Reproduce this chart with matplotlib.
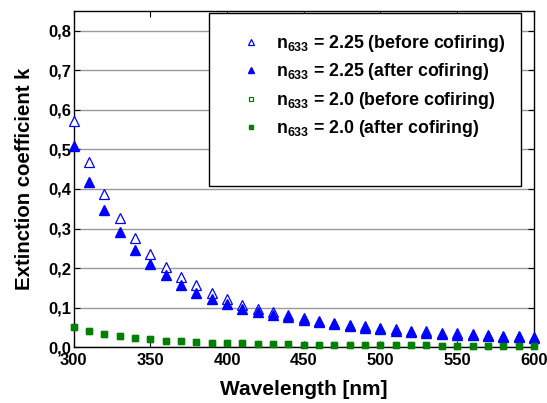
import numpy as np
import matplotlib
matplotlib.use("Agg")
import matplotlib.pyplot as plt
from matplotlib.patches import Rectangle

plt.rcParams['font.family'] = ['Liberation Sans', 'DejaVu Sans']
plt.rcParams['font.weight'] = 'bold'
plt.rcParams['mathtext.fontset'] = 'custom'
plt.rcParams['mathtext.rm'] = 'Liberation Sans:bold'
plt.rcParams['mathtext.bf'] = 'Liberation Sans:bold'
plt.rcParams['mathtext.it'] = 'Liberation Sans:bold'

# data
wavelength = [300, 310, 320, 330, 340, 350, 360, 370, 380, 390, 400,
              410, 420, 430, 440, 450, 460, 470, 480, 490, 500,
              510, 520, 530, 540, 550, 560, 570, 580, 590, 600]
k225_before = [0.571, 0.469, 0.387, 0.327, 0.277, 0.236, 0.204, 0.178, 0.157, 0.138, 0.121,
               0.108, 0.097, 0.088, 0.081, 0.074, 0.067, 0.062, 0.057, 0.053, 0.049,
               0.045, 0.042, 0.040, 0.037, 0.035, 0.033, 0.031, 0.029, 0.028, 0.026]
k225_after = [0.508, 0.417, 0.346, 0.291, 0.246, 0.211, 0.183, 0.157, 0.137, 0.122, 0.109,
              0.097, 0.089, 0.081, 0.076, 0.069, 0.063, 0.058, 0.053, 0.049, 0.046,
              0.042, 0.039, 0.037, 0.034, 0.032, 0.031, 0.029, 0.027, 0.026, 0.024]
k20_before = [0.051, 0.041, 0.034, 0.028, 0.023, 0.020, 0.017, 0.015, 0.014, 0.012, 0.011,
              0.010, 0.009, 0.008, 0.008, 0.007, 0.007, 0.006, 0.006, 0.006, 0.005,
              0.005, 0.005, 0.005, 0.004, 0.004, 0.004, 0.004, 0.004, 0.004, 0.004]
k20_after = [0.051, 0.041, 0.034, 0.028, 0.023, 0.020, 0.017, 0.015, 0.014, 0.012, 0.011,
             0.010, 0.009, 0.008, 0.008, 0.007, 0.007, 0.006, 0.006, 0.006, 0.005,
             0.005, 0.005, 0.005, 0.004, 0.004, 0.004, 0.004, 0.004, 0.004, 0.004]

labels = [r'$\mathbf{n_{633}}$ = 2.25 (before cofiring)',
          r'$\mathbf{n_{633}}$ = 2.25 (after cofiring)',
          r'$\mathbf{n_{633}}$ = 2.0 (before cofiring)',
          r'$\mathbf{n_{633}}$ = 2.0 (after cofiring)']
xticks = [300, 350, 400, 450, 500, 550, 600]
yticks = [0.0, 0.1, 0.2, 0.3, 0.4, 0.5, 0.6, 0.7, 0.8]
ytick_labels = ['0,0', '0,1', '0,2', '0,3', '0,4', '0,5', '0,6', '0,7', '0,8']

blue = '#0000ff'
green = '#008000'

fig = plt.figure(figsize=(5.47, 4.03), dpi=100)
ax = fig.add_axes([0.1347, 0.1382, 0.8413, 0.8352])

h1, = ax.plot(wavelength, k225_before, ls='none', marker='^', ms=6.5, mfc='white', mec=blue, mew=0.9, clip_on=False, zorder=4)
h2, = ax.plot(wavelength, k225_after, ls='none', marker='^', ms=6.5, mfc=blue, mec=blue, clip_on=False, zorder=5)
h3, = ax.plot(wavelength, k20_before, ls='none', marker='s', ms=5, mfc='white', mec=green, mew=0.9, clip_on=False, zorder=4)
h4, = ax.plot(wavelength, k20_after, ls='none', marker='s', ms=5, mfc=green, mec=green, clip_on=False, zorder=5)

ax.set_xlim(300, 600)
ax.set_ylim(0, 0.85)
ax.set_xticks(xticks)
ax.set_xticklabels([str(x) for x in xticks], fontsize=12, fontweight='bold')
ax.set_yticks(yticks)
ax.set_yticklabels(ytick_labels, fontsize=12, fontweight='bold')
ax.tick_params(direction='in', top=True, right=True, length=4, width=0.8, pad=2)
ax.tick_params(axis='x', pad=4)
ax.yaxis.grid(True, color='#999999', lw=1.0)
ax.set_axisbelow(True)
for s in ax.spines.values():
    s.set_linewidth(1.0)

ax.set_xlabel('Wavelength [nm]', fontsize=15, fontweight='bold', labelpad=9)
ax.set_ylabel('Extinction coefficient k', fontsize=14.7, fontweight='bold', labelpad=10)

# legend box (larger than the entries)
ax.add_patch(Rectangle((0.294, 0.479), 0.678, 0.514, transform=ax.transAxes,
                       facecolor='white', edgecolor='black', lw=1.0, zorder=6))
leg = ax.legend([h1, h2, h3, h4], labels, loc='upper left', bbox_to_anchor=(0.35, 0.955),
                frameon=False, fontsize=12.8, markerscale=0.7, handlelength=1.0,
                handletextpad=0.9, labelspacing=0.42, borderaxespad=0)
leg.set_zorder(7)

fig.savefig('out.png', dpi=100)
